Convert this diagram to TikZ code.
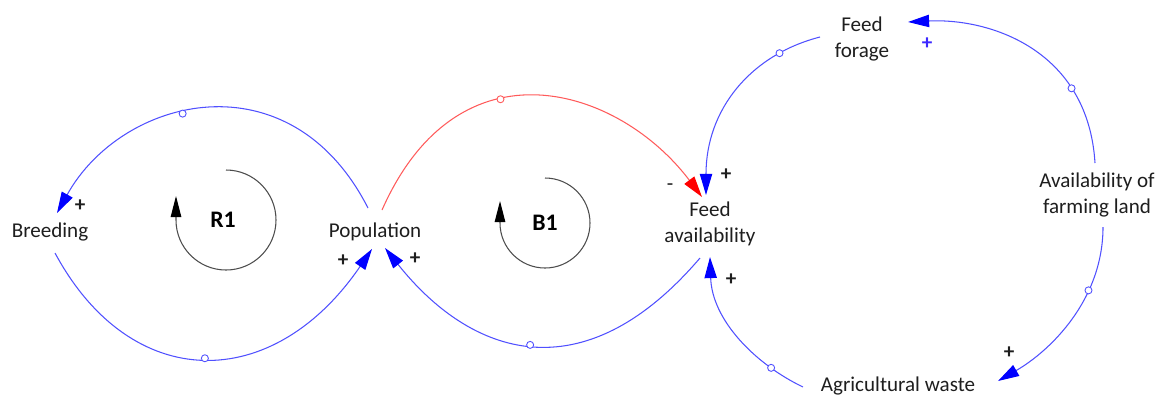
\documentclass[tikz,border=0pt]{standalone}
\usepackage{fontspec}
\setmainfont{Carlito}
\usetikzlibrary{arrows.meta}
\definecolor{lnblue}{RGB}{80,80,255}
\definecolor{tipblue}{RGB}{0,0,255}
\definecolor{lnred}{RGB}{255,90,90}
\definecolor{tipred}{RGB}{255,0,0}
\definecolor{txt}{RGB}{30,30,30}
\definecolor{plusblue}{RGB}{60,40,255}
\begin{document}
\begin{tikzpicture}[x=0.02cm,y=-0.02cm,
  var/.style={font=\fontsize{12}{15}\selectfont, text=txt, align=center, inner sep=0pt},
  sign/.style={font=\bfseries\fontsize{12}{14}\selectfont, text=txt, inner sep=0pt},
  loopname/.style={font=\bfseries\fontsize{13.5}{15}\selectfont, text=black, inner sep=0pt},
  poslink/.style={draw=lnblue, line width=0.6pt, -{Triangle[length=12pt,width=7pt,color=tipblue]}},
  neglink/.style={draw=lnred, line width=0.6pt, -{Triangle[length=12pt,width=7pt,color=tipred]}},
  tick/.style={circle, draw=lnblue, fill=white, inner sep=0pt, minimum size=4pt, line width=0.5pt},
  redtick/.style={tick, draw=lnred},
  looparrow/.style={draw=black!70, line width=0.6pt, -{Triangle[length=12pt,width=6pt,color=black]}}]
\useasboundingbox (0,0) rectangle (1166,397);

% variables
\node[var] (breed) at (50,232) {Breeding};
\node[var] (pop) at (375,232) {Population};
\node[var] (fa) at (710,224) {Feed\\availability};
\node[var] (ff) at (862,39) {Feed\\forage};
\node[var] (land) at (1097,195) {Availability of\\farming land};
\node[var] (waste) at (898,386) {Agricultural waste};

% loop labels
\node[loopname] (r1) at (223,220) {R1};
\node[loopname] (b1) at (545,223) {B1};
\draw[looparrow] ([shift={(3,-50)}]r1.center) arc[start angle=-90,end angle=180,radius=50] -- ++(0,-24);
\draw[looparrow] ([shift={(0,-45)}]b1.center) arc[start angle=-90,end angle=180,radius=45] -- ++(0,-22);

% links
\draw[poslink] ([shift={(-7,-24)}]pop.center) .. controls +(-78,-153) and +(65,-117) .. ([shift={(7,-19)}]breed.center) node[tick,pos=0.57] (t1) {};
\draw[poslink] ([shift={(5,21)}]breed.center) .. controls +(76,141) and +(-99,145) .. ([shift={(-3,17)}]pop.center) node[tick,pos=0.5] (t2) {};
\draw[neglink] ([shift={(7,-22)}]pop.center) .. controls +(77,-174) and +(-83,-110) .. ([shift={(-8,-27)}]fa.center) node[redtick,pos=0.39] (t3) {};
\draw[poslink] ([shift={(-10,34)}]fa.center) .. controls +(-118,138) and +(85,107) .. ([shift={(10,16)}]pop.center) node[tick,pos=0.5] (t4) {};
\draw[poslink] ([shift={(-42,-2)}]ff.center) .. controls +(-70,18) and +(0,-85) .. ([shift={(-4,-29)}]fa.center) node[tick,pos=0.21] (t5) {};
\draw[poslink] ([shift={(-2,-32)}]land.center) .. controls +(-7,-113) and +(82,-4) .. ([shift={(46,-17)}]ff.center) node[tick,pos=0.27] (t6) {};
\draw[poslink] ([shift={(6,32)}]land.center) .. controls +(0,73) and +(52,-30) .. ([shift={(100,-5)}]waste.center) node[tick,pos=0.32] (t7) {};
\draw[poslink] ([shift={(-95,1)}]waste.center) .. controls +(-48,-23) and +(2,63) .. ([shift={(0,33)}]fa.center) node[tick,pos=0.23] (t8) {};

% polarity signs
\node[sign] (s1) at (80,206) {+};
\node[sign] (s2) at (343,261) {+};
\node[sign] (s3) at (415,259) {+};
\node[var] (s4) at (670,187) {-};
\node[sign] (s5) at (726,175) {+};
\node[sign, text=plusblue] (s6) at (927,44) {+};
\node[sign] (s7) at (731,280) {+};
\node[sign] (s8) at (1009,353) {+};
\end{tikzpicture}
\end{document}
